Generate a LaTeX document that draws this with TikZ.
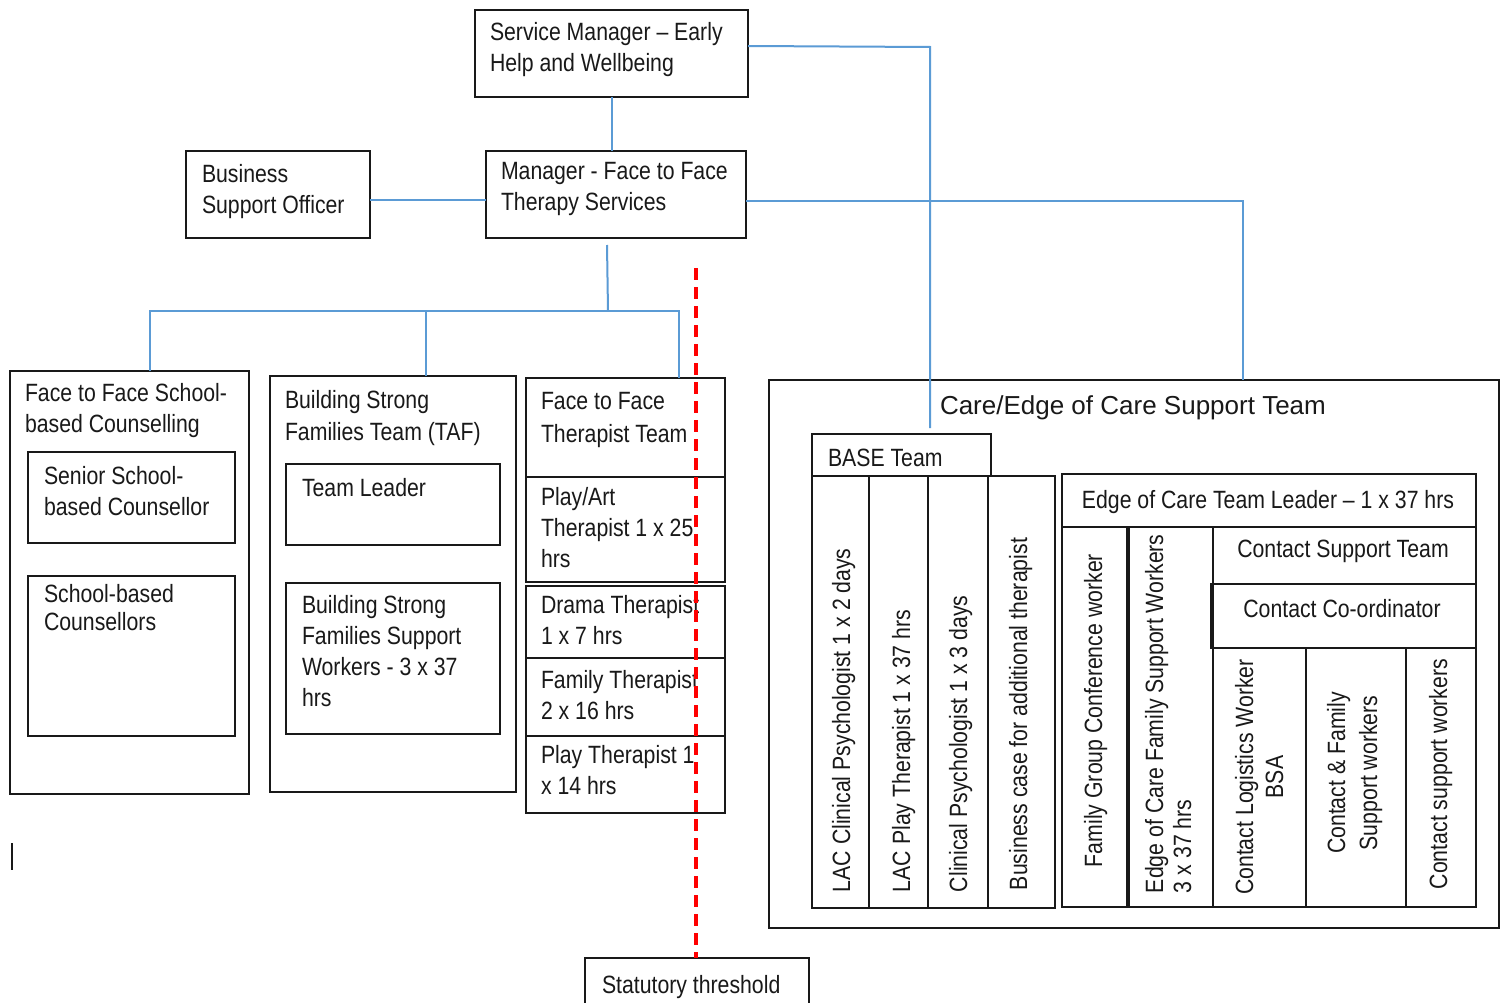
\documentclass[tikz,border=0pt]{standalone}
\usepackage{fontspec}
\setmainfont[FakeStretch=0.85]{Liberation Sans}
\newfontfamily\titlefont{Liberation Sans}
\usetikzlibrary{fit}
\definecolor{connblue}{RGB}{91,155,213}
\definecolor{ink}{RGB}{25,25,25}
\begin{document}
\begin{tikzpicture}[x=1pt,y=-1pt,
  box/.style={draw=ink, line width=2pt, inner sep=0pt, outer sep=0pt},
  txt/.style={inner sep=0pt, outer sep=0pt, align=left, text=ink, font=\fontsize{25}{31}\selectfont},
  vtxt/.style={txt, rotate=90, anchor=base west},
  vctxt/.style={txt, rotate=90, anchor=base, align=center},
  conn/.style={draw=connblue, line width=2pt},
  thresh/.style={draw=red, line width=4pt, dash pattern=on 12pt off 7pt}]
\useasboundingbox[fill=white] (0,0) rectangle (1501,1003);
% boxes
\node[box, fit={(475,10) (748,97)}] (sm) {};
\node[box, fit={(486,151) (746,238)}] (mgr) {};
\node[box, fit={(186,151) (370,238)}] (bso) {};
\node[box, fit={(10,371) (249,794)}] (sbc) {};
\node[box, fit={(28,452) (235,543)}] (ssc) {};
\node[box, fit={(28,576) (235,736)}] (sc) {};
\node[box, fit={(270,376) (516,792)}] (bsf) {};
\node[box, fit={(286,464) (500,545)}] (tl) {};
\node[box, fit={(286,583) (500,734)}] (bsw) {};
\node[box, fit={(526,378) (725,477)}] (ftf) {};
\node[box, fit={(526,477) (725,582)}] (pa) {};
\node[box, fit={(526,586) (725,658)}] (dr) {};
\node[box, fit={(526,658) (725,736)}] (ft) {};
\node[box, fit={(526,736) (725,813)}] (pt) {};
\node[box, fit={(769,380) (1499,928)}] (care) {};
\node[box, fit={(812,434) (991,476)}] (base) {};
\node[box, fit={(812,476) (869,908)}] (b1) {};
\node[box, fit={(869,476) (928,908)}] (b2) {};
\node[box, fit={(928,476) (988,908)}] (b3) {};
\node[box, fit={(988,476) (1055,908)}] (b4) {};
\node[box, fit={(1062,474) (1476,527)}] (eoc) {};
\node[box, fit={(1062,527) (1128,907)}] (e1) {};
\node[box, fit={(1128,527) (1213,907)}] (e2) {};
\node[box, fit={(1213,527) (1476,584)}] (cst) {};
\node[box, fit={(1211,584) (1476,648)}] (cc) {};
\node[box, fit={(1213,648) (1306,907)}] (c1) {};
\node[box, fit={(1306,648) (1406,907)}] (c2) {};
\node[box, fit={(1406,648) (1476,907)}] (c3) {};
\node[box, fit={(585,958) (809,1012)}] (stat) {};
\draw[ink, line width=4pt] (e1.north east) -- (e1.south east);
% texts (anchor base = baseline of the last line)
\node[txt, anchor=base west] (tsm) at (490,72) {Service Manager – Early\\Help and Wellbeing};
\node[txt, anchor=base west] (tmgr) at (501,211) {Manager - Face to Face\\Therapy Services};
\node[txt, anchor=base west] (tbso) at (202,213) {Business\\Support Officer};
\node[txt, anchor=base west] (tsbc) at (25,432) {Face to Face School-\\based Counselling};
\node[txt, anchor=base west] (tssc) at (44,515) {Senior School-\\based Counsellor};
\node[txt, anchor=base west] (tsc) at (44,630) {School-based\\[-3pt]Counsellors};
\node[txt, anchor=base west] (tbsf) at (285,440) {Building Strong\\[1pt]Families Team (TAF)};
\node[txt, anchor=base west] (ttl) at (302,496) {Team Leader};
\node[txt, anchor=base west] (tbsw) at (302,706) {Building Strong\\Families Support\\Workers - 3 x 37\\hrs};
\node[txt, anchor=base west] (tftf) at (541,442) {Face to Face\\[2pt]Therapist Team};
\node[txt, anchor=base west] (tpa) at (541,567) {Play/Art\\Therapist 1 x 25\\hrs};
\node[txt, anchor=base west] (tdr) at (541,644) {Drama Therapist\\1 x 7 hrs};
\node[txt, anchor=base west] (tft) at (541,719) {Family Therapist\\2 x 16 hrs};
\node[txt, anchor=base west] (tpt) at (541,794) {Play Therapist 1\\x 14 hrs};
\node[txt, anchor=base west, font=\titlefont\fontsize{26}{31}\selectfont] (tcare) at (940,414) {Care/Edge of Care Support Team};
\node[txt, anchor=base west] (tbase) at (828,466) {BASE Team};
\node[vtxt] (tb1) at (850,892) {LAC Clinical Psychologist 1 x 2 days};
\node[vtxt] (tb2) at (910,892) {LAC Play Therapist 1 x 37 hrs};
\node[vtxt] (tb3) at (967,892) {Clinical Psychologist 1 x 3 days};
\node[vtxt] (tb4) at (1027,890) {Business case for additional therapist};
\node[txt, anchor=base] (teoc) at (1268,508) {Edge of Care Team Leader – 1 x 37 hrs};
\node[vtxt] (te1) at (1102,867) {Family Group Conference worker};
\node[vtxt] (te2) at (1191,893) {Edge of Care Family Support Workers\\[-3pt]3 x 37 hrs};
\node[txt, anchor=base] (tcst) at (1343,557) {Contact Support Team};
\node[txt, anchor=base] (tcc) at (1342,617) {Contact Co-ordinator};
\node[vctxt] (tc1) at (1283,777) {Contact Logistics Worker\\[-1pt]BSA};
\node[vctxt] (tc2) at (1377,773) {Contact \& Family\\[1pt]Support workers};
\node[vctxt] (tc3) at (1447,774) {Contact support workers};
\node[txt, anchor=base west] (tstat) at (602,993) {Statutory threshold};
% connectors
\coordinate (crt) at (930,428);
\coordinate (mgrdrop) at (607,245);
\coordinate (hub) at (608,311);
\coordinate (busL) at (150,311);
\coordinate (busR) at (679,311);
\coordinate (busM) at (426,311);
\coordinate (thtop) at (696,268);
\draw[conn] (sm.south) -- (sm.south |- mgr.north);
\draw[conn] (bso.east |- 0,200) -- (mgr.west |- 0,200);
\draw[conn] (sm.east |- 0,46) -- (930,47) -- (crt);
\draw[conn] (mgr.east |- 0,201) -| (care.north -| 1243,0);
\draw[conn] (mgrdrop) -- (hub);
\draw[conn] (sbc.north -| busL) -- (busL) -- (busR) -- (ftf.north -| busR);
\draw[conn] (bsf.north -| busM) -- (busM);
\draw[thresh] (thtop) -- (stat.north -| thtop);
\draw[ink, line width=2pt] (12,843) -- (12,870);
\end{tikzpicture}
\end{document}
